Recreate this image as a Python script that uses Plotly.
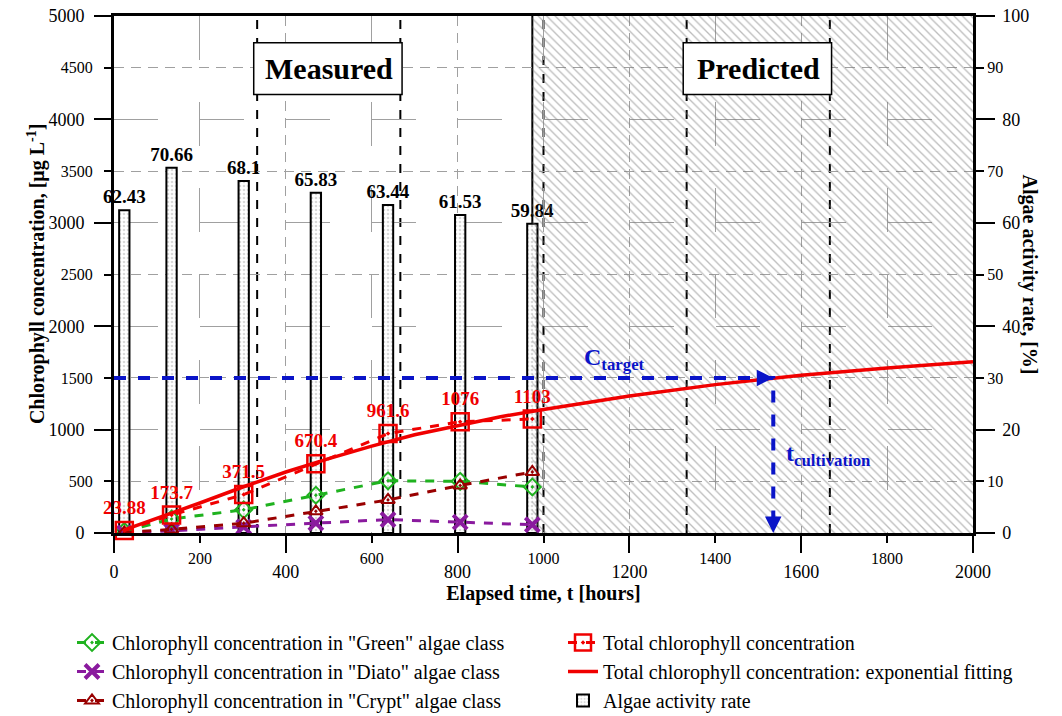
import plotly.graph_objects as go

# ---------------- data ----------------
times = [24, 134, 302, 470, 638, 806, 974]
total = [23.88, 173.7, 371.5, 670.4, 961.6, 1076, 1103]
green = [15, 135, 225, 365, 505, 500, 445]
diato = [2, 20, 60, 95, 130, 105, 80]
crypt = [5, 35, 95, 210, 320, 460, 590]
activity = [62.43, 70.66, 68.1, 65.83, 63.44, 61.53, 59.84]

fit_t = [24, 100, 200, 300, 400, 500, 600, 700, 800, 900, 1000, 1200, 1400, 1600, 1800, 2000]
fit_c = [30, 140, 290, 445, 590, 720, 840, 950, 1040, 1125, 1195, 1325, 1435, 1525, 1595, 1655]

c_target = 1500
t_cultivation = 1535
predicted_start = 974
x_max = 2000
phase_bounds = [333.3, 666.7, 1000, 1333.3, 1666.7]
phase_labels = ["Measured", "Predicted"]

x_major = [0, 400, 800, 1200, 1600, 2000]
x_minor = [200, 600, 1000, 1400, 1800]
yl_major = [0, 1000, 2000, 3000, 4000, 5000]
yl_minor = [500, 1500, 2500, 3500, 4500]
yr_major = [0, 20, 40, 60, 80, 100]
yr_minor = [10, 30, 50, 70, 90]

# ---------------- style ----------------
FONT = "Liberation Serif"
RED = "#f00000"
GREEN = "#1fb21f"
PURPLE = "#8a1a9e"
DRED = "#990000"
BLUE = "#0a14c8"
GRID = "#a0a0a0"
SHORT_DASH = "10px,7px"
LONG_DASH = "44px,42px"

fig = go.Figure()

# hatched predicted region (right axis, drawn first)
fig.add_trace(go.Scatter(
    x=[predicted_start, x_max, x_max, predicted_start, predicted_start],
    y=[0, 0, 100, 100, 0],
    fill="toself", fillcolor="rgba(0,0,0,0)",
    fillpattern=dict(shape="\\", fgcolor="#7a7a7a", size=6, solidity=0.22),
    mode="lines", line=dict(width=0),
    showlegend=False, hoverinfo="skip", xaxis="x", yaxis="y"))

# algae activity bars (right axis)
fig.add_trace(go.Bar(
    x=times, y=activity, width=24,
    marker=dict(color="white", line=dict(color="black", width=2),
                pattern=dict(shape=".", fgcolor="#b4b4b4", size=4, solidity=0.35)),
    text=[str(v) for v in activity], texttemplate="<b>%{text}</b>",
    textposition="outside", textfont=dict(size=19, color="black", family=FONT),
    constraintext="none", cliponaxis=False,
    name="Algae activity rate", legend="legend2", legendgroup="g6", legendrank=3,
    xaxis="x", yaxis="y"))

# chlorophyll lines (left axis)
fig.add_trace(go.Scatter(
    x=times, y=green, mode="lines+markers",
    line=dict(color=GREEN, width=3, dash="dash"),
    marker=dict(symbol="diamond-open-dot", size=13, color=GREEN, line=dict(width=2)),
    name='Chlorophyll concentration in "Green" algae class',
    legend="legend", legendgroup="g1", legendrank=1, xaxis="x", yaxis="y2"))
fig.add_trace(go.Scatter(
    x=times, y=diato, mode="lines+markers",
    line=dict(color=PURPLE, width=3, dash="dash"),
    marker=dict(symbol="x-thin-open", size=14, color=PURPLE, line=dict(width=4, color=PURPLE)),
    name='Chlorophyll concentration in "Diato" algae class',
    legend="legend", legendgroup="g2", legendrank=2, xaxis="x", yaxis="y2"))
fig.add_trace(go.Scatter(
    x=times, y=crypt, mode="lines+markers",
    line=dict(color=DRED, width=3, dash="dash"),
    marker=dict(symbol="triangle-up-open-dot", size=12, color=DRED, line=dict(width=2)),
    name='Chlorophyll concentration in "Crypt" algae class',
    legend="legend", legendgroup="g3", legendrank=3, xaxis="x", yaxis="y2"))
fig.add_trace(go.Scatter(
    x=fit_t, y=fit_c, mode="lines",
    line=dict(color=RED, width=3.5),
    name="Total chlorophyll concentration: exponential fitting",
    legend="legend2", legendgroup="g5", legendrank=2, xaxis="x", yaxis="y2"))
fig.add_trace(go.Scatter(
    x=times, y=total, mode="lines+markers+text",
    line=dict(color=RED, width=3, dash="dash"),
    marker=dict(symbol="square-open-dot", size=17, color=RED, line=dict(width=2.5)),
    text=[str(v) for v in total], texttemplate="<b>%{text}</b>",
    textposition="top center", textfont=dict(size=19, color=RED, family=FONT),
    cliponaxis=False,
    name="Total chlorophyll concentration",
    legend="legend2", legendgroup="g4", legendrank=1, xaxis="x", yaxis="y2"))

# target guide line
fig.add_trace(go.Scatter(
    x=[0, t_cultivation, t_cultivation], y=[c_target, c_target, 60],
    mode="lines", line=dict(color=BLUE, width=4, dash="dash"),
    showlegend=False, hoverinfo="skip", xaxis="x", yaxis="y2"))

# empty carriers so the staggered secondary tick axes are drawn
for xa, ya in [("x2", "y"), ("x", "y3"), ("x", "y4")]:
    fig.add_trace(go.Scatter(x=[None], y=[None], mode="markers", showlegend=False,
                             hoverinfo="skip", xaxis=xa, yaxis=ya))

shapes = []
for b in phase_bounds:
    shapes.append(dict(type="line", xref="x", yref="paper", x0=b, x1=b, y0=0, y1=1,
                       line=dict(color="black", width=2, dash="dash"), layer="between"))
shapes.append(dict(type="line", xref="x", yref="paper", x0=predicted_start, x1=predicted_start,
                   y0=0, y1=1, line=dict(color="black", width=2), layer="between"))
box_spans = [(phase_bounds[0], phase_bounds[1]), (phase_bounds[3], phase_bounds[4])]
annotations = []
for (a, b), lab in zip(box_spans, phase_labels):
    shapes.append(dict(type="rect", xref="x", yref="y2", x0=a - 8, x1=b + 4, y0=4242, y1=4742,
                       fillcolor="white", line=dict(color="black", width=1.5), layer="above"))
    annotations.append(dict(xref="x", yref="y2", x=(a + b) / 2, y=4492, text=f"<b>{lab}</b>",
                            showarrow=False, font=dict(size=30, family=FONT, color="black")))

# arrowheads
annotations.append(dict(xref="x", yref="y2", axref="x", ayref="y2", x=t_cultivation, y=c_target,
                        ax=t_cultivation - 25, ay=c_target, text="", showarrow=True,
                        arrowhead=2, arrowsize=1.1, arrowwidth=3, arrowcolor=BLUE))
annotations.append(dict(xref="x", yref="y2", axref="x", ayref="y2", x=t_cultivation, y=0,
                        ax=t_cultivation, ay=120, text="", showarrow=True,
                        arrowhead=2, arrowsize=1.1, arrowwidth=3, arrowcolor=BLUE))
annotations.append(dict(xref="x", yref="y2", x=1165, y=c_target, yanchor="bottom", yshift=2,
                        text="<b>C<sub>target</sub></b>", showarrow=False,
                        font=dict(size=24, family=FONT, color=BLUE)))
annotations.append(dict(xref="x", yref="y2", x=t_cultivation + 25, y=754, xanchor="left",
                        text="<b>t<sub>cultivation</sub></b>", showarrow=False,
                        font=dict(size=24, family=FONT, color=BLUE)))
# axis titles (left and right)
annotations.append(dict(xref="paper", yref="paper", x=-0.107, y=0.5,
                        text="<b>Chlorophyll concentration, [μg L<sup>-1</sup>]</b>",
                        textangle=-90, showarrow=False,
                        font=dict(size=20, family=FONT, color="black")))
annotations.append(dict(xref="paper", yref="paper", x=1.082, y=0.5,
                        text="<b>Algae activity rate, [%]</b>", textangle=90, showarrow=False,
                        font=dict(size=20, family=FONT, color="black")))

axis_common = dict(ticks="outside", tickwidth=2, tickcolor="black", zeroline=False,
                   tickfont=dict(family=FONT, size=18, color="black"))
minor_font = dict(family=FONT, size=16, color="black")

fig.update_layout(
    width=1062, height=716,
    margin=dict(l=114, r=89, t=16, b=183, autoexpand=False),
    paper_bgcolor="white", plot_bgcolor="white",
    font=dict(family=FONT, color="black"),
    barmode="overlay",
    xaxis=dict(range=[0, x_max], tickvals=x_major, ticklen=17, showline=True, linewidth=2.5,
               linecolor="black", mirror=True, showgrid=True, gridcolor=GRID, gridwidth=1.2,
               griddash=SHORT_DASH, ticklabelstandoff=4,
               title=dict(text="<b>Elapsed time, t [hours]</b>", font=dict(size=20, family=FONT),
                          standoff=4),
               **axis_common),
    xaxis2=dict(overlaying="x", anchor="y", side="bottom", range=[0, x_max], tickvals=x_minor,
                ticklen=9, showline=False, showgrid=True, gridcolor=GRID, gridwidth=1.2,
                griddash=LONG_DASH, ticklabelstandoff=2,
                **{**axis_common, "tickfont": minor_font}),
    yaxis=dict(side="right", range=[0, 100], tickvals=yr_major, ticklen=19, showline=True,
               linewidth=2.5, linecolor="black", mirror=True, showgrid=True, gridcolor=GRID,
               gridwidth=1.2, griddash=LONG_DASH, ticklabelstandoff=4, **axis_common),
    yaxis3=dict(overlaying="y", anchor="x", side="right", range=[0, 100], tickvals=yr_minor,
                ticklen=10, showline=False, showgrid=True, gridcolor=GRID, gridwidth=1.2,
                griddash=SHORT_DASH, ticklabelstandoff=0,
                **{**axis_common, "tickfont": minor_font}),
    yaxis2=dict(overlaying="y", anchor="x", side="left", range=[0, 5000], tickvals=yl_major,
                ticklen=19, showline=False, showgrid=False, ticklabelstandoff=6,
                **axis_common),
    yaxis4=dict(overlaying="y", anchor="x", side="left", range=[0, 5000], tickvals=yl_minor,
                ticklen=9, showline=False, showgrid=False, ticklabelstandoff=8,
                **{**axis_common, "tickfont": minor_font}),
    legend=dict(xref="container", yref="container", x=72 / 1062, y=1 - 623 / 716,
                xanchor="left", yanchor="top",
                font=dict(size=20, family=FONT), bgcolor="rgba(0,0,0,0)", tracegroupgap=0),
    legend2=dict(xref="container", yref="container", x=563 / 1062, y=1 - 623 / 716,
                 xanchor="left", yanchor="top",
                 font=dict(size=20, family=FONT), bgcolor="rgba(0,0,0,0)", tracegroupgap=0),
    shapes=shapes,
    annotations=annotations,
    showlegend=True,
)

fig.write_html("out.html")
